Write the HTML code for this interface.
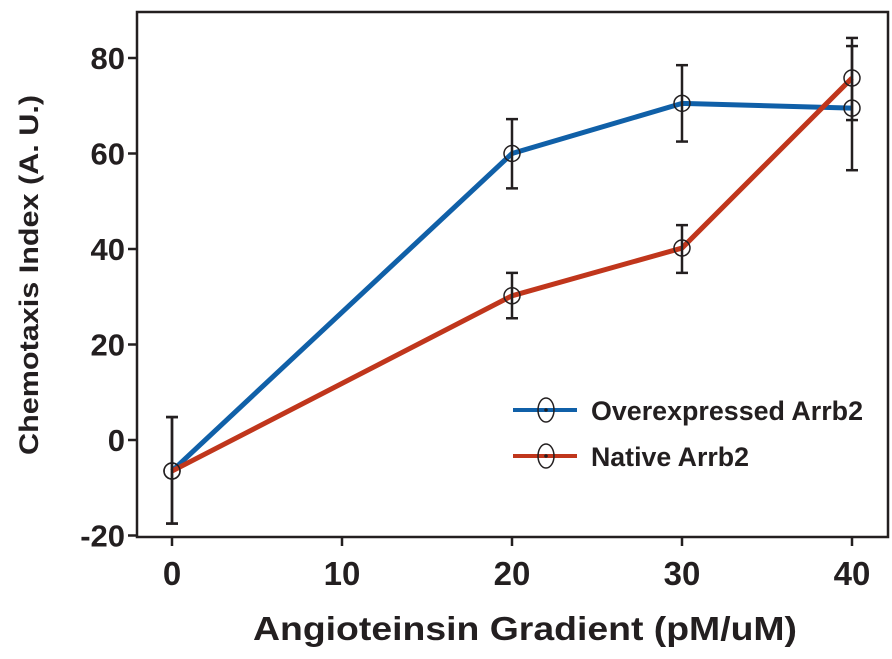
<!DOCTYPE html>
<html><head><meta charset="utf-8"><style>
body{margin:0;background:#fff}
svg text{font-family:"Liberation Sans",Arial,sans-serif;font-weight:bold;fill:#231f20}
</style></head><body>
<svg id="chart" width="892" height="654" viewBox="0 0 892 654" xmlns="http://www.w3.org/2000/svg">
<rect x="137" y="12" width="751" height="525" fill="none" stroke="#231f20" stroke-width="2.5"/>
<g id="axes"></g><g id="series"></g>
<text x="253" y="640" font-size="33" textLength="544" lengthAdjust="spacingAndGlyphs">Angioteinsin Gradient (pM/uM)</text>
<text transform="translate(38,455) rotate(-90)" font-size="27" textLength="360" lengthAdjust="spacingAndGlyphs">Chemotaxis Index (A. U.)</text>
<g>
<line x1="513" y1="410" x2="577" y2="410" stroke="#1060a8" stroke-width="4"/>
<ellipse cx="546" cy="410" rx="8" ry="12" fill="none" stroke="#231f20" stroke-width="1.5"/><circle cx="546" cy="410" r="1.8" fill="#231f20"/>
<text x="591" y="420" font-size="27" textLength="272" lengthAdjust="spacingAndGlyphs">Overexpressed Arrb2</text>
<line x1="513" y1="456" x2="577" y2="456" stroke="#c0361c" stroke-width="4"/>
<ellipse cx="546" cy="456" rx="8" ry="12" fill="none" stroke="#231f20" stroke-width="1.5"/><circle cx="546" cy="456" r="1.8" fill="#231f20"/>
<text x="591" y="466" font-size="27" textLength="158" lengthAdjust="spacingAndGlyphs">Native Arrb2</text>
</g>
</svg>
<script>
const xs=[0,20,30,40];
const blueVals=[-6.5,60,70.5,69.5];
const blueHi=[4.8,67.2,78.5,82.5];
const blueLo=[-17.5,52.7,62.5,56.5];
const redVals=[-6.5,30.2,40.2,75.8];
const redHi=[4.8,35,45,84.2];
const redLo=[-17.5,25.5,35,67];
const xTicks=[0,10,20,30,40];
const yTicks=[-20,0,20,40,60,80];
const X=v=>172+v*17, Y=v=>440-v*4.775;
const NS="http://www.w3.org/2000/svg";
function mk(p,t,a){const e=document.createElementNS(NS,t);for(const k in a)e.setAttribute(k,a[k]);p.appendChild(e);return e;}
const ax=document.getElementById('axes');
xTicks.forEach(v=>{
 const l=mk(ax,'line',{x1:X(v),x2:X(v),y1:537,y2:546,stroke:'#231f20','stroke-width':2.5});
 
 
 const t=mk(ax,'text',{x:X(v),y:585,'font-size':33,'text-anchor':'middle'});t.textContent=v;
 
 
});
yTicks.forEach(v=>{
 const l=mk(ax,'line',{x1:128,x2:137,y1:Y(v),y2:Y(v),stroke:'#231f20','stroke-width':2.5});
 
 
 const t=mk(ax,'text',{x:125,y:Y(v)+11,'font-size':31,'text-anchor':'end'});t.textContent=v;
 
 
});
const sg=document.getElementById('series');
function draw(vals,hi,lo,color,name){
 const pl=mk(sg,'polyline',{points:xs.map((x,i)=>X(x)+','+Y(vals[i])).join(' '),fill:'none',stroke:color,'stroke-width':5,'stroke-linejoin':'round'});
 
 
 xs.forEach((x,i)=>{
  const g=mk(sg,'g',{});
  
  
  mk(g,'line',{x1:X(x),x2:X(x),y1:Y(hi[i]),y2:Y(lo[i]),stroke:'#231f20','stroke-width':2.5});
  mk(g,'line',{x1:X(x)-6,x2:X(x)+6,y1:Y(hi[i]),y2:Y(hi[i]),stroke:'#231f20','stroke-width':2.5});
  mk(g,'line',{x1:X(x)-6,x2:X(x)+6,y1:Y(lo[i]),y2:Y(lo[i]),stroke:'#231f20','stroke-width':2.5});
  mk(g,'ellipse',{cx:X(x),cy:Y(vals[i]),rx:8,ry:8,fill:'none',stroke:'#231f20','stroke-width':1.5});
 });
}
draw(blueVals,blueHi,blueLo,'#1060a8','overexpressed');
draw(redVals,redHi,redLo,'#c0361c','native');
</script>
</body></html>
